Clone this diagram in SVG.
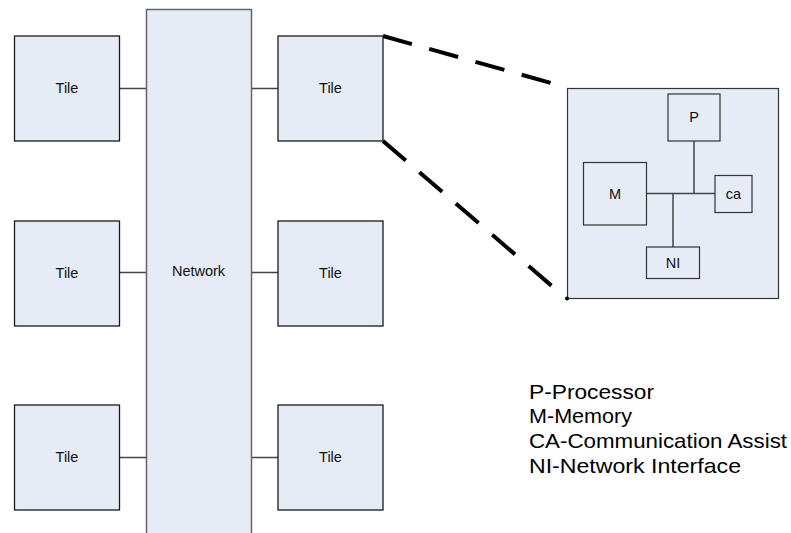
<svg xmlns="http://www.w3.org/2000/svg" width="791" height="533" viewBox="0 0 791 533">
<style>
.box{fill:#e6ecf6;stroke:#1a1a1a;stroke-width:1.3}
.net{fill:#e6ecf6;stroke:#666;stroke-width:1.5}
.in{fill:#e6ecf6;stroke:#333;stroke-width:1.2}
.lbl{font-family:"Liberation Sans",Arial,sans-serif;font-size:14.5px;fill:#111;text-anchor:middle}
.leg{font-family:"Liberation Sans",Arial,sans-serif;font-size:21px;fill:#000}
.ln{stroke:#444;stroke-width:1.5;fill:none}
.dash{stroke:#000;stroke-width:4;fill:none;stroke-dasharray:30 18}
</style>
<rect width="791" height="533" fill="#fff"/>
<g id="connectors">
<line class="ln" x1="120" y1="88.5" x2="146" y2="88.5"/>
<line class="ln" x1="251" y1="88.5" x2="278" y2="88.5"/>
<line class="ln" x1="120" y1="272.5" x2="146" y2="272.5"/>
<line class="ln" x1="251" y1="272.5" x2="278" y2="272.5"/>
<line class="ln" x1="120" y1="457.5" x2="146" y2="457.5"/>
<line class="ln" x1="251" y1="457.5" x2="278" y2="457.5"/>
<line class="dash" x1="383" y1="36" x2="551" y2="83"/>
<line class="dash" x1="383" y1="141" x2="553" y2="287"/>
</g>
<g id="network"><rect class="net" x="146.5" y="9.5" width="105" height="530"/><text class="lbl" x="198.5" y="276">Network</text></g>
<g id="tile-l1"><rect class="box" x="14.5" y="36" width="105" height="105"/><text class="lbl" x="67" y="93">Tile</text></g>
<g id="tile-l2"><rect class="box" x="14.5" y="221" width="105" height="105"/><text class="lbl" x="67" y="277.5">Tile</text></g>
<g id="tile-l3"><rect class="box" x="14.5" y="405" width="105" height="105"/><text class="lbl" x="67" y="462">Tile</text></g>
<g id="tile-r1"><rect class="box" x="278" y="36" width="105" height="105"/><text class="lbl" x="330.5" y="93">Tile</text></g>
<g id="tile-r2"><rect class="box" x="278" y="221" width="105" height="105"/><text class="lbl" x="330.5" y="277.5">Tile</text></g>
<g id="tile-r3"><rect class="box" x="278" y="405" width="105" height="105"/><text class="lbl" x="330.5" y="462">Tile</text></g>
<g id="tile-detail">
<rect class="in" x="567.5" y="88.5" width="211" height="210"/>
<circle cx="567" cy="298.5" r="2" fill="#000"/>
<g id="inner-links">
<line class="ln" x1="646" y1="193.5" x2="715" y2="193.5"/>
<line class="ln" x1="694" y1="141" x2="694" y2="193.5"/>
<line class="ln" x1="673" y1="193.5" x2="673" y2="247"/>
</g>
<g id="P"><rect class="in" x="668" y="94" width="52" height="47"/><text class="lbl" x="694" y="122">P</text></g>
<g id="M"><rect class="in" x="583.5" y="162.5" width="63" height="62.5"/><text class="lbl" x="615" y="199">M</text></g>
<g id="ca"><rect class="in" x="715" y="175.5" width="37" height="37"/><text class="lbl" x="733.5" y="199">ca</text></g>
<g id="NI"><rect class="in" x="646.5" y="247" width="53" height="31.5"/><text class="lbl" x="673" y="267.5">NI</text></g>
</g>
<g id="legend">
<text class="leg" x="529" y="398.5" textLength="125" lengthAdjust="spacingAndGlyphs">P-Processor</text>
<text class="leg" x="529" y="423" textLength="103" lengthAdjust="spacingAndGlyphs">M-Memory</text>
<text class="leg" x="529" y="448" textLength="258" lengthAdjust="spacingAndGlyphs">CA-Communication Assist</text>
<text class="leg" x="529" y="472.5" textLength="212" lengthAdjust="spacingAndGlyphs">NI-Network Interface</text>
</g>
</svg>
